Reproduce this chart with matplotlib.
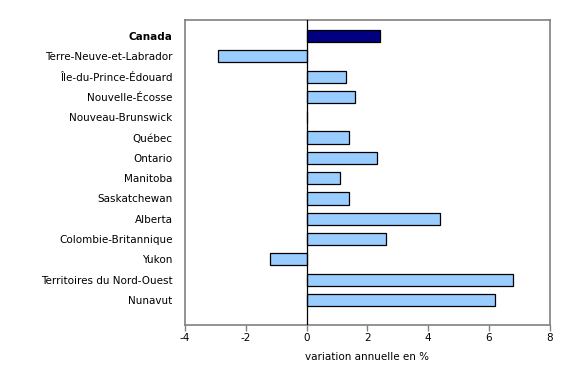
import matplotlib
matplotlib.use('Agg')
import matplotlib.pyplot as plt
import numpy as np

# annual % change by province/territory
regions = ['Canada', 'Terre-Neuve-et-Labrador', 'Île-du-Prince-Édouard',
           'Nouvelle-Écosse', 'Nouveau-Brunswick', 'Québec', 'Ontario',
           'Manitoba', 'Saskatchewan', 'Alberta', 'Colombie-Britannique',
           'Yukon', 'Territoires du Nord-Ouest', 'Nunavut']
values = [2.4, -2.9, 1.3, 1.6, 0.0, 1.4, 2.3, 1.1, 1.4, 4.4, 2.6, -1.2, 6.8, 6.2]
xticks = [-4, -2, 0, 2, 4, 6, 8]

plt.rcParams['font.family'] = ['DejaVu Sans']

fig = plt.figure(figsize=(5.8, 3.65), dpi=100)
ax = fig.add_axes([0.319, 0.1096, 0.629, 0.8356])

y = np.arange(len(regions))
colors = ['#000080'] + ['#99CCFF'] * (len(regions) - 1)
ax.barh(y, values, height=0.6, color=colors, edgecolor='black', linewidth=0.9, zorder=3)
ax.axvline(0, color='black', linewidth=0.9, zorder=4)

ax.set_xlim(-4, 8)
ax.set_ylim(14.23, -0.79)
ax.set_xticks(xticks)
ax.set_xticklabels([str(v) for v in xticks], fontsize=7.5)
ax.set_yticks(y)
ax.set_yticklabels(regions, fontsize=7.5)
ax.get_yticklabels()[0].set_fontweight('bold')
ax.tick_params(axis='y', length=0, pad=9)
ax.tick_params(axis='x', direction='out', length=4, width=1, color='#808080', pad=2)
for s in ax.spines.values():
    s.set_color('#808080')
    s.set_linewidth(1.2)
ax.set_xlabel('variation annuelle en %', fontsize=7.5, labelpad=6)

fig.savefig('out.png', dpi=100)
